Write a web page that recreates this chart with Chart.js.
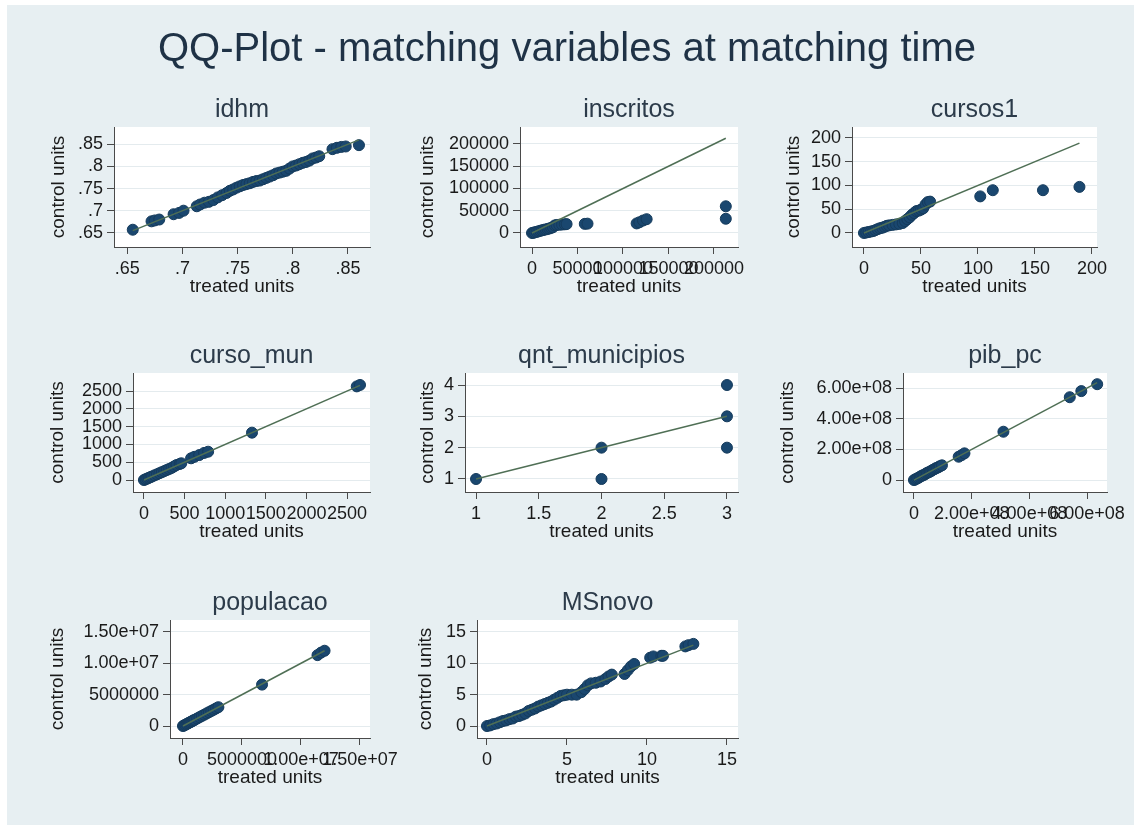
<!DOCTYPE html>
<html lang="en">
<head>
    <meta charset="UTF-8">
    <title>QQ-Plot - matching variables at matching time</title>
    <script src="https://cdn.jsdelivr.net/npm/chart.js@4.4.0/dist/chart.umd.min.js"></script>
    <style>
        html, body {
            margin: 0;
            overflow: hidden;
            background-color: #ffffff;
            font-family: "Liberation Sans", Arial, sans-serif;
        }
        #frame {
            position: fixed;
            left: 7px;
            top: 5px;
            right: 0;
            bottom: 0;
            background-color: #e7eff2; /* Stata-like graph region */
        }
        #main-title {
            position: absolute;
            left: 0;
            top: 23px;
            width: 1134px;
            text-align: center;
            font-size: 40px;
            line-height: 48px;
            color: #1f3246;
        }
        canvas {
            position: absolute;
        }
    </style>
</head>
<body>
    <div id="frame"></div>
    <div id="main-title">QQ-Plot - matching variables at matching time</div>
    <div id="panels"></div>

    <script>
        // ---- data: quantiles of treated units (x) vs control units (y) ----
        const idhmTreated = [0.655, 0.672, 0.675, 0.679, 0.692, 0.697, 0.701, 0.713, 0.716, 0.720, 0.724, 0.728, 0.732, 0.736, 0.740, 0.743, 0.746, 0.749, 0.752, 0.755, 0.758, 0.761, 0.764, 0.767, 0.770, 0.773, 0.776, 0.779, 0.782, 0.785, 0.788, 0.791, 0.794, 0.797, 0.800, 0.803, 0.806, 0.809, 0.812, 0.815, 0.818, 0.821, 0.824, 0.836, 0.840, 0.844, 0.848, 0.860];
        const idhmControl = [0.657, 0.676, 0.678, 0.680, 0.692, 0.695, 0.700, 0.710, 0.714, 0.718, 0.720, 0.724, 0.730, 0.735, 0.740, 0.745, 0.748, 0.752, 0.755, 0.758, 0.760, 0.762, 0.765, 0.767, 0.768, 0.771, 0.774, 0.777, 0.780, 0.784, 0.786, 0.788, 0.790, 0.795, 0.800, 0.802, 0.805, 0.808, 0.810, 0.813, 0.818, 0.820, 0.823, 0.839, 0.842, 0.844, 0.845, 0.848];

        const inscritosTreated = [0, 1500, 3000, 5000, 7000, 9000, 11000, 13000, 15000, 17000, 19000, 21000, 23000, 25000, 27000, 30000, 33000, 36000, 38000, 58000, 61000, 115000, 118000, 122000, 126000, 213000, 213000];
        const inscritosControl = [0, 500, 1500, 2500, 3500, 5000, 6000, 7000, 8000, 9000, 10000, 11500, 13000, 17000, 18000, 18500, 19000, 19500, 20000, 20500, 21000, 21500, 24000, 28000, 31000, 32000, 60000];

        const cursosTreated = [0, 2, 4, 6, 8, 10, 12, 14, 16, 18, 20, 22, 25, 28, 31, 34, 36, 38, 40, 42, 44, 46, 48, 50, 52, 54, 56, 58, 102, 113, 157, 189];
        const cursosControl = [0, 1, 2, 3, 4, 6, 8, 10, 11, 13, 15, 16, 17, 18, 19, 21, 25, 29, 33, 38, 42, 46, 47, 49, 52, 60, 65, 66, 77, 90, 90, 97];

        const cursoMunTreated = [0, 20, 40, 60, 80, 100, 130, 160, 190, 220, 250, 280, 310, 340, 370, 400, 440, 460, 580, 620, 680, 740, 790, 1330, 2620, 2660];
        const cursoMunControl = [0, 20, 40, 60, 80, 100, 130, 160, 190, 220, 250, 280, 310, 340, 380, 420, 450, 470, 610, 650, 700, 760, 795, 1330, 2630, 2670];

        const qntTreated = [1, 2, 2, 3, 3, 3];
        const qntControl = [1, 1, 2, 2, 3, 4];

        const pibTreated = [0, 0.05e8, 0.1e8, 0.15e8, 0.2e8, 0.25e8, 0.3e8, 0.35e8, 0.4e8, 0.45e8, 0.5e8, 0.55e8, 0.6e8, 0.65e8, 0.7e8, 0.75e8, 0.8e8, 0.85e8, 0.9e8, 0.97e8, 1.55e8, 1.65e8, 1.75e8, 3.1e8, 5.4e8, 5.8e8, 6.35e8];
        const pibControl = [0, 0.04e8, 0.1e8, 0.14e8, 0.2e8, 0.26e8, 0.3e8, 0.34e8, 0.4e8, 0.46e8, 0.5e8, 0.54e8, 0.6e8, 0.66e8, 0.7e8, 0.76e8, 0.8e8, 0.84e8, 0.9e8, 0.96e8, 1.52e8, 1.62e8, 1.74e8, 3.15e8, 5.4e8, 5.8e8, 6.25e8];

        const popTreated = [0, 1e5, 2e5, 3e5, 4e5, 5e5, 6e5, 7e5, 8e5, 9e5, 1.0e6, 1.2e6, 1.4e6, 1.6e6, 1.8e6, 2.0e6, 2.2e6, 2.4e6, 2.6e6, 2.8e6, 3.0e6, 6.7e6, 1.14e7, 1.17e7, 1.2e7];
        const popControl = [0, 1e5, 2e5, 3e5, 4e5, 5e5, 6e5, 7e5, 8e5, 9e5, 1.0e6, 1.2e6, 1.4e6, 1.6e6, 1.8e6, 2.0e6, 2.2e6, 2.4e6, 2.6e6, 2.8e6, 3.0e6, 6.6e6, 1.13e7, 1.17e7, 1.2e7];

        const msTreated = [0, 0.2, 0.4, 0.6, 0.8, 1.0, 1.2, 1.4, 1.6, 1.8, 2.0, 2.2, 2.4, 2.6, 2.8, 3.0, 3.2, 3.4, 3.6, 3.8, 4.0, 4.2, 4.4, 4.6, 4.8, 5.0, 5.3, 5.6, 5.9, 6.1, 6.3, 6.5, 6.8, 7.1, 7.4, 7.6, 7.8, 8.6, 8.8, 9.0, 9.2, 10.2, 10.4, 10.9, 11.0, 12.4, 12.6, 12.9];
        const msControl = [0, 0.1, 0.3, 0.4, 0.6, 0.8, 0.9, 1.1, 1.2, 1.5, 1.6, 1.8, 2.0, 2.4, 2.6, 2.8, 3.1, 3.3, 3.5, 3.7, 3.9, 4.2, 4.5, 4.8, 4.9, 5.0, 5.0, 5.0, 5.4, 5.9, 6.5, 6.8, 6.9, 7.1, 7.5, 7.9, 8.2, 8.3, 8.9, 9.5, 9.9, 10.9, 11.1, 11.2, 11.2, 12.7, 12.9, 13.1];

        // ---- tick values and labels ----
        const idhmTicks = [0.65, 0.7, 0.75, 0.8, 0.85];
        const idhmLabels = ['.65', '.7', '.75', '.8', '.85'];
        const inscritosTicks = [0, 50000, 100000, 150000, 200000];
        const inscritosLabels = ['0', '50000', '100000', '150000', '200000'];
        const cursosTicks = [0, 50, 100, 150, 200];
        const cursosLabels = ['0', '50', '100', '150', '200'];
        const cursoMunTicks = [0, 500, 1000, 1500, 2000, 2500];
        const cursoMunLabels = ['0', '500', '1000', '1500', '2000', '2500'];
        const qntYTicks = [1, 2, 3, 4];
        const qntYLabels = ['1', '2', '3', '4'];
        const qntXTicks = [1, 1.5, 2, 2.5, 3];
        const qntXLabels = ['1', '1.5', '2', '2.5', '3'];
        const pibTicks = [0, 2e8, 4e8, 6e8];
        const pibLabels = ['0', '2.00e+08', '4.00e+08', '6.00e+08'];
        const popTicks = [0, 5e6, 1e7, 1.5e7];
        const popLabels = ['0', '5000000', '1.00e+07', '1.50e+07'];
        const msTicks = [0, 5, 10, 15];
        const msLabels = ['0', '5', '10', '15'];

        // panel definitions: data + axis ranges + where the plot region sits
        const panels = [
            { title: 'idhm', x: idhmTreated, y: idhmControl, xt: idhmTicks, xl: idhmLabels, yt: idhmTicks, yl: idhmLabels,
              xr: [0.638, 0.870], yr: [0.618, 0.889], box: { l: 114, r: 370, t: 127, b: 247, ty: 58 } },
            { title: 'inscritos', x: inscritosTreated, y: inscritosControl, xt: inscritosTicks, xl: inscritosLabels, yt: inscritosTicks, yl: inscritosLabels,
              xr: [-13200, 226400], yr: [-31500, 238200], box: { l: 520, r: 738, t: 127, b: 247, ty: 427 } },
            { title: 'cursos1', x: cursosTreated, y: cursosControl, xt: cursosTicks, xl: cursosLabels, yt: cursosTicks, yl: cursosLabels,
              xr: [-10.5, 204.4], yr: [-29.5, 223], box: { l: 852, r: 1097, t: 127, b: 247, ty: 793 } },
            { title: 'curso_mun', x: cursoMunTreated, y: cursoMunControl, xt: cursoMunTicks, xl: cursoMunLabels, yt: cursoMunTicks, yl: cursoMunLabels,
              xr: [-135, 2783], yr: [-337, 3006], box: { l: 133, r: 370, t: 373, b: 492, ty: 57 } },
            { title: 'qnt_municipios', x: qntTreated, y: qntControl, xt: qntXTicks, xl: qntXLabels, yt: qntYTicks, yl: qntYLabels,
              xr: [0.912, 3.088], yr: [0.585, 4.383], box: { l: 465, r: 738, t: 373, b: 492, ty: 427 } },
            { title: 'pib_pc', x: pibTreated, y: pibControl, xt: pibTicks, xl: pibLabels, yt: pibTicks, yl: pibLabels,
              xr: [-0.38e8, 6.69e8], yr: [-0.78e8, 6.98e8], box: { l: 903, r: 1107, t: 373, b: 492, ty: 787 } },
            { title: 'populacao', x: popTreated, y: popControl, xt: popTicks, xl: popLabels, yt: popTicks, yl: popLabels,
              xr: [-1.1e6, 1.585e7], yr: [-1.91e6, 1.69e7], box: { l: 170, r: 370, t: 620, b: 738, ty: 57 } },
            { title: 'MSnovo', x: msTreated, y: msControl, xt: msTicks, xl: msLabels, yt: msTicks, yl: msLabels,
              xr: [-0.625, 15.69], yr: [-1.91, 16.91], box: { l: 477, r: 738, t: 620, b: 738, ty: 425 } }
        ];

        Chart.defaults.font.family = '"Liberation Sans", Arial, sans-serif';

        // white plot region like Stata's plotregion
        const plotRegion = {
            id: 'plotRegion',
            beforeDraw(chart) {
                const a = chart.chartArea;
                chart.ctx.save();
                chart.ctx.fillStyle = '#ffffff';
                chart.ctx.fillRect(a.left, a.top, a.right - a.left, a.bottom - a.top);
                chart.ctx.restore();
            }
        };

        const axisColor = '#4a4a4a';
        const padRight = 50;
        const holder = document.getElementById('panels');

        panels.forEach(p => {
            const b = p.box;
            const left = Math.round(b.ty - 11.4);   // y title centre
            const top = b.t - 32;                   // panel title box above plot
            const bottom = b.b + 51;                // x title below plot
            const width = b.r + padRight - left;
            const height = bottom - top;
            const yWidth = b.l - left;
            const xHeight = bottom - b.b;

            const canvas = document.createElement('canvas');
            canvas.width = width;
            canvas.height = height;
            canvas.style.left = left + 'px';
            canvas.style.top = top + 'px';
            canvas.style.width = width + 'px';
            canvas.style.height = height + 'px';
            holder.appendChild(canvas);

            const points = p.x.map((v, i) => ({ x: v, y: p.y[i] }));
            // 45-degree reference line over the treated range
            const lo = p.x[0];
            const hi = p.x[p.x.length - 1];

            new Chart(canvas.getContext('2d'), {
                type: 'scatter',
                data: {
                    datasets: [
                        {
                            type: 'line',
                            data: [{ x: lo, y: lo }, { x: hi, y: hi }],
                            borderColor: '#4f6f55',
                            borderWidth: 1.5,
                            pointRadius: 0,
                            fill: false,
                            order: 0
                        },
                        {
                            data: points,
                            pointRadius: 5.5,
                            pointBackgroundColor: '#1a476f',
                            pointBorderColor: '#153b5c',
                            pointBorderWidth: 1,
                            order: 1
                        }
                    ]
                },
                options: {
                    responsive: false,
                    animation: false,
                    layout: { padding: { left: 0, top: 0, right: padRight, bottom: 0 } },
                    plugins: {
                        legend: { display: false },
                        tooltip: { enabled: false },
                        title: {
                            display: true,
                            text: p.title,
                            fullSize: false,
                            color: '#2c3b4a',
                            font: { size: 25, weight: 'normal' },
                            padding: { top: 0, bottom: 2 }
                        }
                    },
                    scales: {
                        x: {
                            type: 'linear',
                            min: p.xr[0],
                            max: p.xr[1],
                            afterBuildTicks: s => { s.ticks = p.xt.map(v => ({ value: v })); },
                            afterFit: s => { s.height = xHeight; s.paddingLeft = 0; s.paddingRight = 0; },
                            ticks: {
                                autoSkip: false,
                                maxRotation: 0,
                                minRotation: 0,
                                padding: 4,
                                color: '#1a1a1a',
                                font: { size: 18 },
                                callback: (v, i) => p.xl[i]
                            },
                            grid: { drawOnChartArea: false, tickLength: 7, tickColor: axisColor },
                            border: { display: true, color: axisColor, width: 1 },
                            title: { display: true, text: 'treated units', color: '#1a1a1a', font: { size: 19 }, padding: 0 }
                        },
                        y: {
                            type: 'linear',
                            min: p.yr[0],
                            max: p.yr[1],
                            afterBuildTicks: s => { s.ticks = p.yt.map(v => ({ value: v })); },
                            afterFit: s => { s.width = yWidth; s.paddingTop = 0; s.paddingBottom = 0; },
                            ticks: {
                                autoSkip: false,
                                padding: 4,
                                color: '#1a1a1a',
                                font: { size: 18 },
                                callback: (v, i) => p.yl[i]
                            },
                            grid: { color: '#e4ebee', lineWidth: 1, tickLength: 7, tickColor: axisColor },
                            border: { display: true, color: axisColor, width: 1 },
                            title: { display: true, text: 'control units', color: '#1a1a1a', font: { size: 19 }, padding: 0 }
                        }
                    }
                },
                plugins: [plotRegion]
            });
        });
    </script>
</body>
</html>
